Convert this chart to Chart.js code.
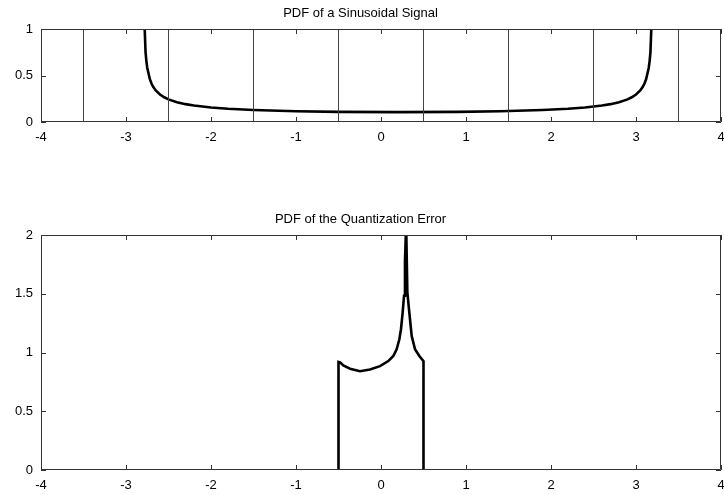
<!DOCTYPE html>
<html>
<head>
<meta charset="utf-8">
<script src="https://cdn.jsdelivr.net/npm/chart.js@4.4.1/dist/chart.umd.min.js"></script>
<style>
  body { margin: 0; background: #fff; }
  #wrap { position: relative; width: 724px; height: 495px; }
  canvas { position: absolute; left: 0; }
  #sineChart { top: 0; }
  #errChart { top: 206px; }
</style>
</head>
<body>
<div id="wrap">
  <canvas id="sineChart" width="724" height="160"></canvas>
  <canvas id="errChart" width="724" height="289"></canvas>
</div>
<script>
// values
const sineX = [-2.78, -2.77, -2.76, -2.75, -2.72, -2.7, -2.68, -2.65, -2.6, -2.55, -2.5, -2.4, -2.3, -2.2, -2.0, -1.8, -1.5,
  -1.0, -0.5, 0.2, 0.9, 1.4, 1.9, 2.2, 2.4, 2.6, 2.7, 2.8, 2.9, 2.95, 3.0, 3.05, 3.08, 3.1, 3.12, 3.15, 3.16, 3.17, 3.18];
const sineY = [1.0, 0.752, 0.652, 0.584, 0.463, 0.414, 0.379, 0.340, 0.296, 0.266, 0.243, 0.213, 0.192, 0.177, 0.156, 0.142, 0.129,
  0.116, 0.109, 0.106, 0.109, 0.116, 0.129, 0.142, 0.156, 0.177, 0.192, 0.213, 0.243, 0.266, 0.296, 0.340, 0.379, 0.414, 0.463, 0.584, 0.652, 0.752, 1.0];
const quantLevels = [-3.5, -2.5, -1.5, -0.5, 0.5, 1.5, 2.5, 3.5];

const errX = [-0.5, -0.5, -0.48, -0.443, -0.365, -0.247, -0.129, -0.012, 0.086, 0.145, 0.184, 0.216, 0.235, 0.255, 0.271, 0.282, 0.292, 0.298,
  0.31, 0.333, 0.361, 0.40, 0.451, 0.5, 0.5];
const errY = [0, 0.919, 0.915, 0.890, 0.862, 0.841, 0.856, 0.884, 0.927, 0.970, 1.027, 1.113, 1.198, 1.341, 1.483, 1.769, 2.0, 2.0,
  1.512, 1.341, 1.141, 1.027, 0.970, 0.925, 0];

const xTicks = [-4, -3, -2, -1, 0, 1, 2, 3, 4];
const sineYTicks = [0, 0.5, 1];
const errYTicks = [0, 0.5, 1, 1.5, 2];

Chart.defaults.font.family = "'Liberation Sans', Arial, sans-serif";
Chart.defaults.font.size = 13;
Chart.defaults.color = '#000';

function toPoints(xs, ys) {
  return xs.map((x, i) => ({ x: x, y: ys[i] }));
}

// box round the plot with inward ticks, matlab style
const boxTicks = {
  id: 'boxTicks',
  afterDatasetsDraw(chart) {
    const { ctx, chartArea: a, scales: { x, y } } = chart;
    ctx.save();
    ctx.strokeStyle = '#333';
    ctx.lineWidth = 1;
    ctx.beginPath();
    x.ticks.forEach(t => {
      const px = Math.round(x.getPixelForValue(t.value)) + 0.5;
      ctx.moveTo(px, a.bottom); ctx.lineTo(px, a.bottom - 5);
      ctx.moveTo(px, a.top); ctx.lineTo(px, a.top + 5);
    });
    y.ticks.forEach(t => {
      const py = Math.round(y.getPixelForValue(t.value)) + 0.5;
      ctx.moveTo(a.left, py); ctx.lineTo(a.left + 5, py);
      ctx.moveTo(a.right, py); ctx.lineTo(a.right - 5, py);
    });
    ctx.rect(Math.round(a.left) + 0.5, Math.round(a.top) + 0.5, Math.round(a.width) - 1, Math.round(a.height) - 1);
    ctx.stroke();
    ctx.restore();
  }
};

function makeOptions(title, yMax, yTicks, xHeight) {
  return {
    responsive: false,
    animation: false,
    layout: { padding: { left: 0, right: 3, top: 0, bottom: 0 } },
    plugins: {
      legend: { display: false },
      tooltip: { enabled: false },
      title: {
        display: true,
        text: title,
        color: '#000',
        font: { size: 13, weight: 'normal' },
        padding: { top: 5.4, bottom: 8 }
      }
    },
    scales: {
      x: {
        type: 'linear',
        min: -4, max: 4,
        grid: { display: false, drawTicks: false },
        border: { display: false },
        afterBuildTicks: s => { s.ticks = xTicks.map(v => ({ value: v })); },
        afterFit: s => { s.height = xHeight; s.paddingLeft = 0; s.paddingRight = 0; },
        ticks: { padding: 8, maxRotation: 0, autoSkip: false, callback: v => String(v) }
      },
      y: {
        type: 'linear',
        min: 0, max: yMax,
        grid: { display: false, drawTicks: false },
        border: { display: false },
        afterBuildTicks: s => { s.ticks = yTicks.map(v => ({ value: v })); },
        afterFit: s => { s.width = 41; },
        ticks: { padding: 8, callback: v => String(v) }
      }
    }
  };
}

const lineStyle = { showLine: true, pointRadius: 0, borderColor: '#000', borderWidth: 2.6, tension: 0, fill: false };

const sineSets = quantLevels.map(l => ({
  data: [{ x: l, y: 0 }, { x: l, y: 1 }],
  showLine: true, pointRadius: 0, borderColor: '#444', borderWidth: 1, fill: false
}));
sineSets.push(Object.assign({ data: toPoints(sineX, sineY) }, lineStyle));

new Chart(document.getElementById('sineChart'), {
  type: 'scatter',
  data: { datasets: sineSets },
  options: makeOptions('PDF of a Sinusoidal Signal', 1, sineYTicks, 38),
  plugins: [boxTicks]
});

new Chart(document.getElementById('errChart'), {
  type: 'scatter',
  data: { datasets: [Object.assign({ data: toPoints(errX, errY) }, lineStyle)] },
  options: makeOptions('PDF of the Quantization Error', 2, errYTicks, 25),
  plugins: [boxTicks]
});
</script>
</body>
</html>
